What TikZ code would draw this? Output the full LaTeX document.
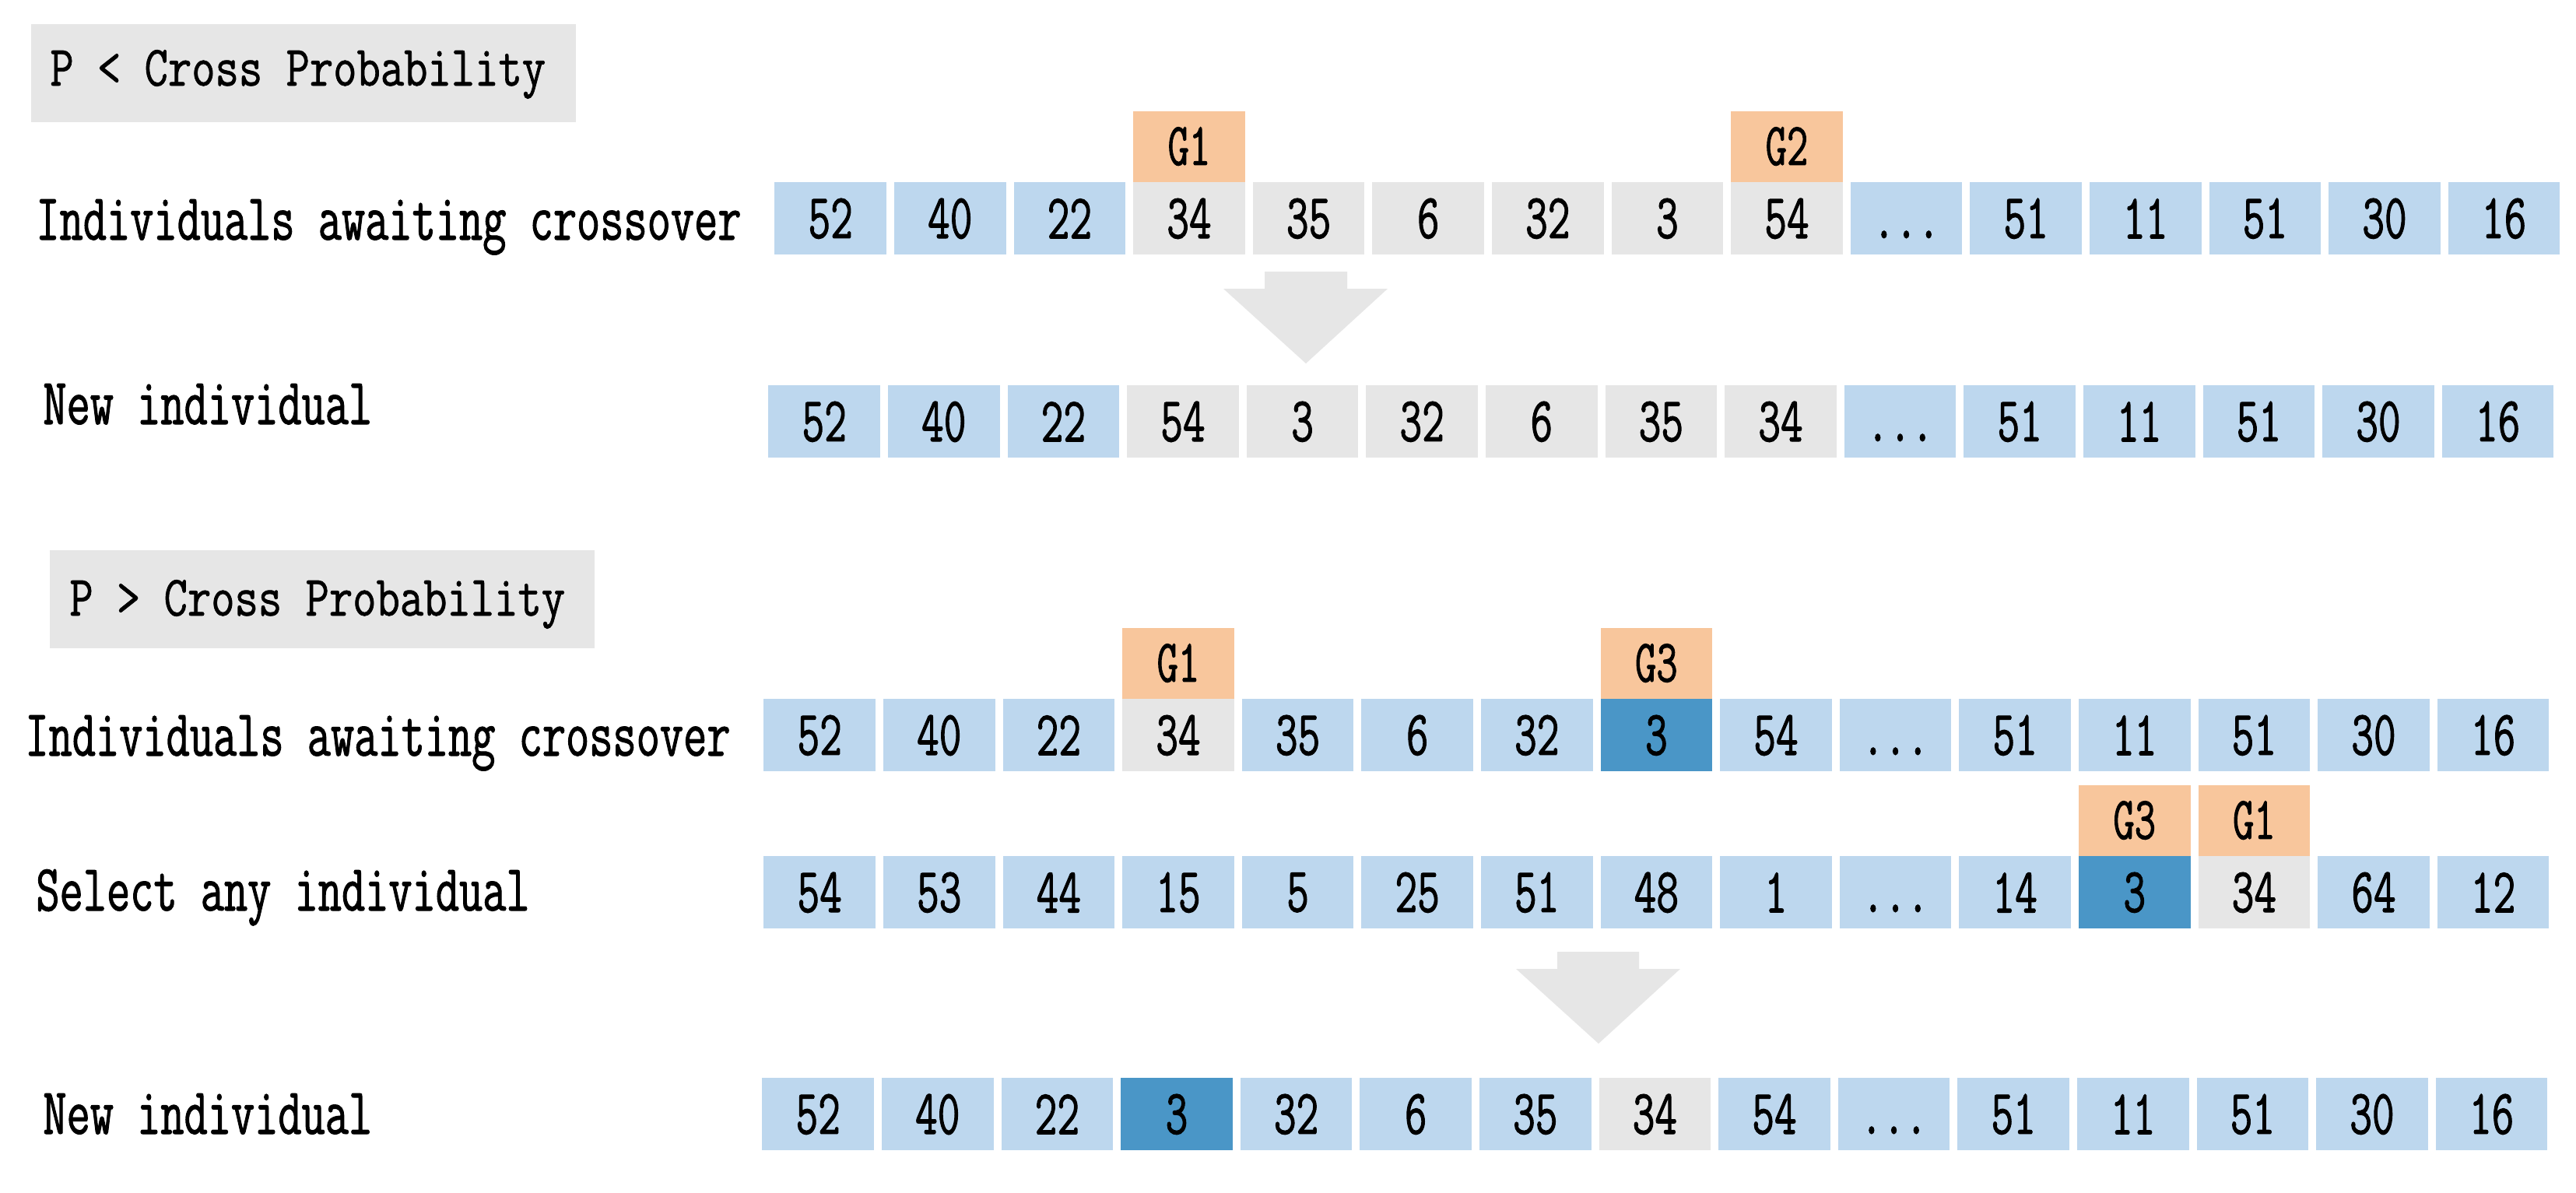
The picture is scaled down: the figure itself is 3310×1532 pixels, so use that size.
\documentclass[tikz,border=0pt]{standalone}
\usepackage{fontspec}
\newfontfamily\cellfont[FakeStretch=0.68,FakeBold=1.2]{Latin Modern Mono}
\newfontfamily\lblfont[FakeStretch=0.69,FakeBold=1.2]{Latin Modern Mono}
\newfontfamily\titfont[FakeStretch=0.80,FakeBold=1.0]{Latin Modern Mono}
\definecolor{cb}{HTML}{BDD7EE}
\definecolor{cg}{HTML}{E6E6E6}
\definecolor{co}{HTML}{F8C69C}
\definecolor{cd}{HTML}{4A96C7}
\newcommand\mydots{\vphantom{0}...}
\tikzset{
  cell/.style={rectangle, inner sep=0pt, minimum width=71.75pt, minimum height=46.5pt,
    anchor=north west, font=\cellfont\fontsize{41pt}{41pt}\selectfont},
  gbox/.style={rectangle, fill=co, inner sep=0pt, minimum width=71.75pt, minimum height=45.5pt,
    anchor=south, font=\cellfont\fontsize{39pt}{39pt}\selectfont},
  rowlabel/.style={anchor=base west, inner sep=0pt, font=\lblfont\fontsize{42.5pt}{42.5pt}\selectfont},
  titlebox/.style={rectangle, fill=cg, inner sep=0pt, minimum width=350pt, minimum height=63pt, anchor=north west},
  titletext/.style={anchor=base west, inner sep=0pt, font=\titfont\fontsize{36.8pt}{36.8pt}\selectfont},
  bigarrow/.style={fill=cg}
}
\newcommand\cellrow[4]{%
  \foreach \cv/\cc [count=\ci from 0] in {#4} {
    \node[cell, fill=\cc] (#1c\ci) at ({#2+\ci*153.6}, #3) {\cv};
  }}
\begin{document}
\begin{tikzpicture}[x=0.5pt, y=-0.5pt]
\fill[white] (0,0) rectangle (3310,1532);
\path[use as bounding box] (0,0) rectangle (3310,1532);

% ---------- top section ----------
\node[titlebox] (t1) at (40,31) {};
\node[titletext] (t1txt) at (64,110) {P < Cross Probability};

\node[rowlabel] (l1) at (46,308) {Individuals awaiting crossover};
\cellrow{ra}{995}{234}{52/cb,40/cb,22/cb,34/cg,35/cg,6/cg,32/cg,3/cg,54/cg,\mydots/cb,51/cb,11/cb,51/cb,30/cb,16/cb}
\node[gbox] (ga1) at (rac3.north) {G1};
\node[gbox] (ga2) at (rac8.north) {G2};

\fill[bigarrow] (1625,349) -- (1731,349) -- (1731,371) -- (1783,371) -- (1678,467)
  -- (1572,371) -- (1625,371) -- cycle;

\node[rowlabel] (l2) at (55,545) {New individual};
\cellrow{rb}{987}{495}{52/cb,40/cb,22/cb,54/cg,3/cg,32/cg,6/cg,35/cg,34/cg,\mydots/cb,51/cb,11/cb,51/cb,30/cb,16/cb}

% ---------- bottom section ----------
\node[titlebox] (t2) at (64,707) {};
\node[titletext] (t2txt) at (89,791) {P > Cross Probability};

\node[rowlabel] (l3) at (32,971) {Individuals awaiting crossover};
\cellrow{rc}{981}{898}{52/cb,40/cb,22/cb,34/cg,35/cb,6/cb,32/cb,3/cd,54/cb,\mydots/cb,51/cb,11/cb,51/cb,30/cb,16/cb}
\node[gbox] (gc1) at (rcc3.north) {G1};
\node[gbox] (gc3) at (rcc7.north) {G3};

\node[rowlabel] (l4) at (46,1170) {Select any individual};
\cellrow{rd}{981}{1100}{54/cb,53/cb,44/cb,15/cb,5/cb,25/cb,51/cb,48/cb,1/cb,\mydots/cb,14/cb,3/cd,34/cg,64/cb,12/cb}
\node[gbox] (gd3) at (rdc11.north) {G3};
\node[gbox] (gd1) at (rdc12.north) {G1};

\fill[bigarrow] (2001,1223) -- (2106,1223) -- (2106,1245) -- (2159,1245) -- (2054,1341)
  -- (1948,1245) -- (2001,1245) -- cycle;

\node[rowlabel] (l5) at (55,1457) {New individual};
\cellrow{re}{979}{1385}{52/cb,40/cb,22/cb,3/cd,32/cb,6/cb,35/cb,34/cg,54/cb,\mydots/cb,51/cb,11/cb,51/cb,30/cb,16/cb}
\end{tikzpicture}
\end{document}
